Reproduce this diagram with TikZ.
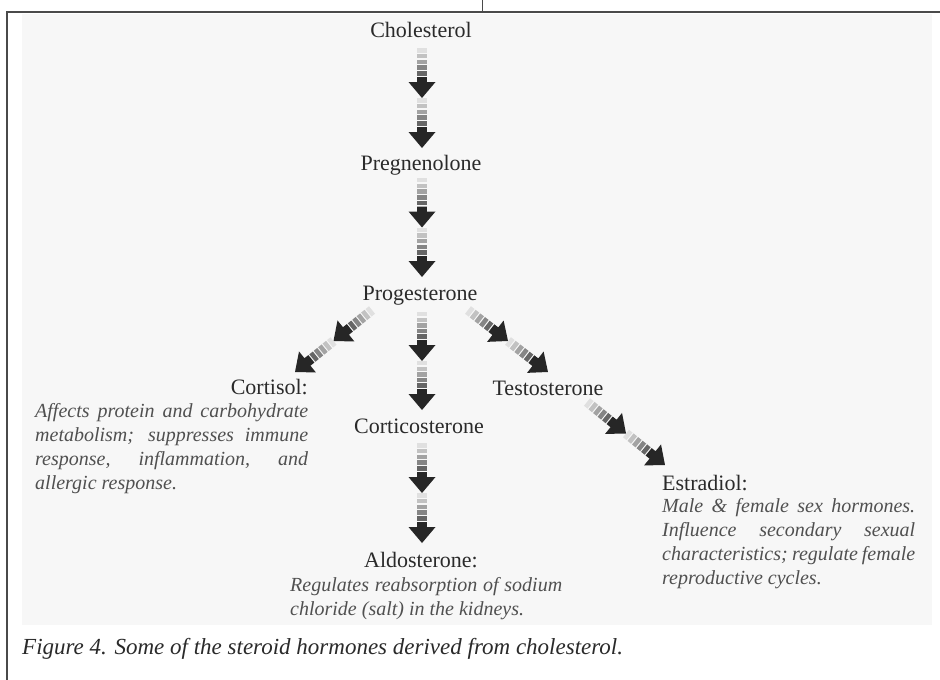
\documentclass[tikz,border=0pt]{standalone}
\usepackage{fontspec}
\setmainfont{Liberation Serif}
\usetikzlibrary{calc,decorations.markings}
\definecolor{panel}{HTML}{F7F7F7}
\definecolor{ink}{HTML}{2A2A2A}
\definecolor{descink}{HTML}{505050}
\definecolor{framec}{HTML}{4A4A4A}
\definecolor{headc}{HTML}{262626}

% one segment of a striped connector: gradient striped shaft + black block head
\newcommand\arrowseg{%
  \pgfmathsetmacro\seglen{\pgfdecoratedpathlength/2}%
  \pgfmathsetmacro\shl{\seglen-21}%
  \foreach \k/\g in {0/12,1/24,2/36,3/48,4/60}{%
    \pgfmathsetmacro\xa{\k*\shl/5}%
    \pgfmathsetmacro\xb{(\k+0.78)*\shl/5}%
    \fill[black!\g] (\xa pt,-4.8pt) rectangle (\xb pt,4.8pt);
  }%
  \fill[headc] (\shl pt,-4.8pt) -- ++(5pt,0pt) -- ++(0pt,-8.7pt) -- ++(16pt,13.5pt)
     -- ++(-16pt,13.5pt) -- ++(0pt,-8.7pt) -- ++(-5pt,0pt) -- cycle;
}

\tikzset{
  conn/.style={decorate, decoration={markings,
      mark=at position 0 with {\arrowseg},
      mark=at position 0.5 with {\arrowseg}}},
  lbl/.style={font=\fontsize{22}{26}\selectfont, text=ink, inner sep=0pt},
  desc/.style={font=\itshape\fontsize{20}{24}\selectfont, text=descink,
      inner sep=0pt, align=left},
  capt/.style={font=\itshape\fontsize{23}{27}\selectfont, text=ink, inner sep=0pt}
}

\begin{document}
\begin{tikzpicture}[x=1pt,y=-1pt]
\useasboundingbox (0,0) rectangle (940,680);
\fill[white] (0,0) rectangle (940,680);
\fill[panel] (22,14) rectangle (932,625);
\draw[framec, line width=1.5pt] (940,12) -- (7,12) -- (7,680);
\draw[framec, line width=0.8pt] (482,0) -- (482,12);

% nodes
\node[lbl, anchor=base] (chol) at (421,37) {Cholesterol};
\node[lbl, anchor=base] (preg) at (421,170) {Pregnenolone};
\node[lbl, anchor=base] (prog) at (420,300) {Progesterone};
\node[lbl, anchor=base east] (cort) at (308,394) {Cortisol:};
\node[lbl, anchor=base] (testo) at (548,395) {Testosterone};
\node[lbl, anchor=base] (corti) at (419,433) {Corticosterone};
\node[lbl, anchor=base] (aldo) at (421,567) {Aldosterone:};
\node[lbl, anchor=base west] (estr) at (662,490) {Estradiol:};

\node[desc, anchor=north west] (cortd) at (35,403) {%
\makebox[273pt][s]{Affects protein and carbohydrate}\\
\makebox[273pt][s]{metabolism; suppresses immune}\\
\makebox[273pt][s]{response, inflammation, and}\\
allergic response.};

\node[desc, anchor=north west] (aldod) at (290,577) {%
\makebox[272pt][s]{Regulates reabsorption of sodium}\\
chloride (salt) in the kidneys.};

\node[desc, anchor=north west] (estrd) at (662,498) {%
\makebox[253pt][s]{Male \& female sex hormones.}\\
\makebox[253pt][s]{Influence secondary sexual}\\
\makebox[253pt][s]{characteristics; regulate female}\\
reproductive cycles.};

\node[capt, anchor=base west] (caption) at (22,654)
  {Figure 4. Some of the steroid hormones derived from cholesterol.};

% connectors
\path[conn] ($(chol.base)+(1,11)$) -- ($(preg.base)+(1,-22)$);
\path[conn] ($(preg.base)+(1,8)$) -- ($(prog.base)+(2,-23)$);
\path[conn] ($(prog.base)+(2,12)$) -- ($(corti.base)+(3,-23)$);
\path[conn] ($(corti.base)+(3,10)$) -- ($(aldo.base)+(1,-24)$);
\path[conn] ($(prog.base)+(-48,10)$) -- ($(cort.base east)+(-13,-22)$);
\path[conn] ($(prog.base)+(48,10)$) -- ($(testo.base)+(0,-23)$);
\path[conn] ($(testo.base)+(39,7)$) -- ($(estr.base west)+(3,-25)$);
\end{tikzpicture}
\end{document}
